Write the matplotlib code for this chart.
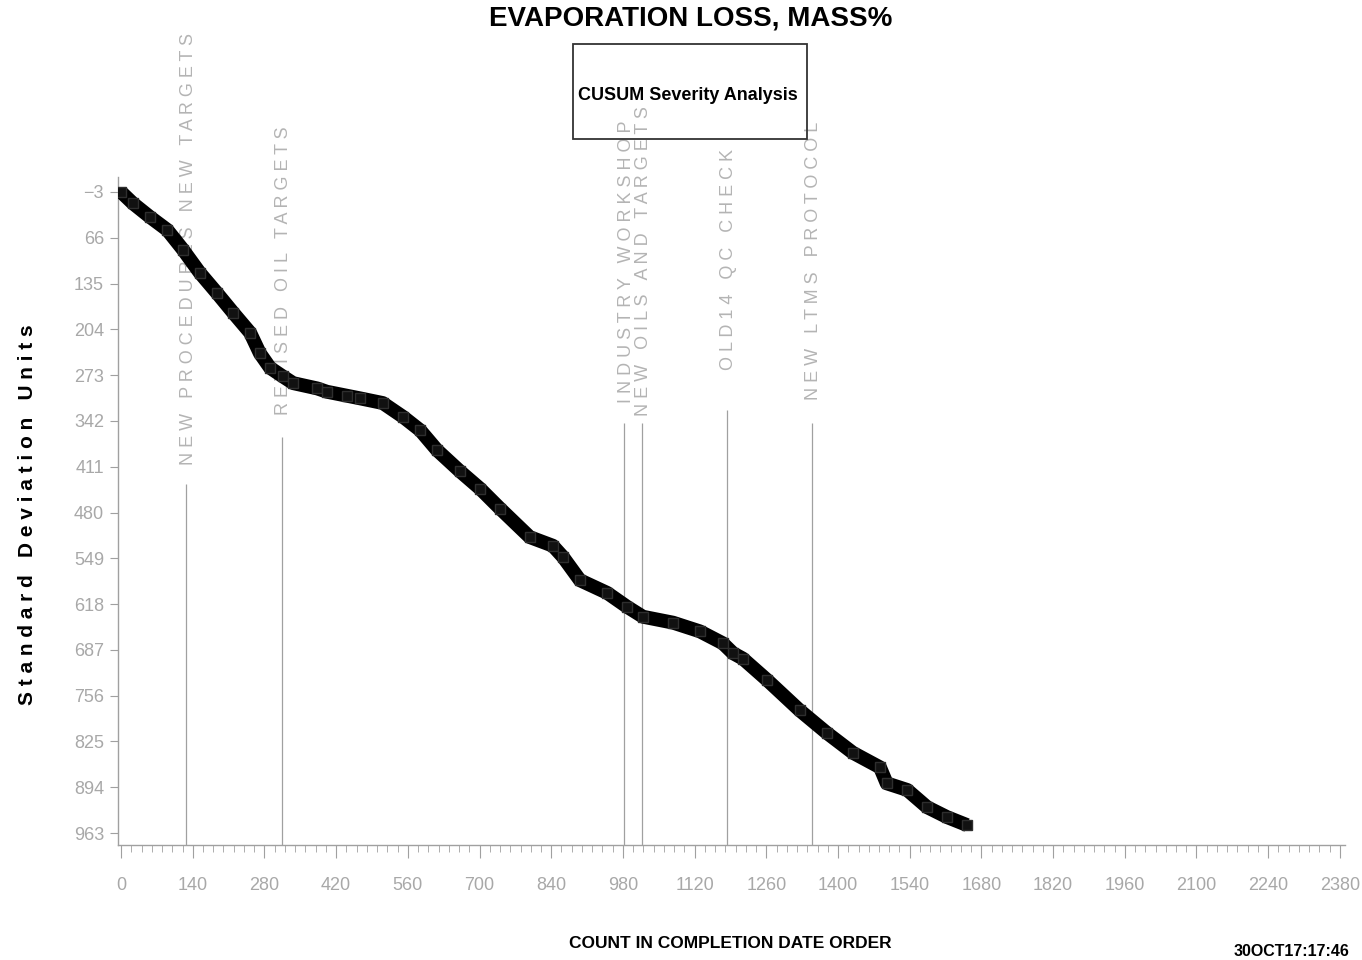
import matplotlib
matplotlib.use("Agg")
import matplotlib.pyplot as plt
from matplotlib.patches import Rectangle

# ---- data ----
count = [0, 23, 57, 90, 121, 154, 187, 219, 252, 271, 291, 316, 336, 383, 402,
         441, 467, 511, 551, 584, 617, 662, 701, 740, 798, 843, 863, 896, 949,
         988, 1019, 1078, 1130, 1175, 1195, 1214, 1261, 1325, 1378, 1429, 1482,
         1495, 1535, 1574, 1613, 1652]
cusum = [-3, 14, 35, 54, 84, 119, 149, 179, 209, 240, 262, 275, 285, 293, 298,
         304, 308, 315, 336, 356, 386, 418, 444, 474, 517, 530, 547, 582, 601,
         622, 637, 646, 659, 677, 692, 700, 732, 778, 812, 842, 864,
         888, 898, 924, 939, 951]

event_x = [127, 314, 982, 1017, 1183, 1349]
event_top = [437, 366, 345, 345, 326, 345]
event_label_y = [408, 333, 315, 334, 265, 310]
event_labels = ["NEW PROCEDURES NEW TARGETS", "REVISED OIL TARGETS",
                "INDUSTRY WORKSHOP", "NEW OILS AND TARGETS",
                "OLD14 QC CHECK", "NEW LTMS PROTOCOL"]

y_ticks = [-3, 66, 135, 204, 273, 342, 411, 480, 549, 618, 687, 756, 825, 894, 963]
x_ticks = [0, 140, 280, 420, 560, 700, 840, 980, 1120, 1260, 1400, 1540, 1680,
           1820, 1960, 2100, 2240, 2380]

title = "EVAPORATION LOSS, MASS%"
box_text = "CUSUM Severity Analysis"
x_label = "COUNT IN COMPLETION DATE ORDER"
y_label = "Standard Deviation Units"
stamp = "30OCT17:17:46"

ARIAL = ["Liberation Sans", "DejaVu Sans"]


def spaced(s, gap=" "):
    return "   ".join(gap.join(list(w)) for w in s.split(" "))


fig = plt.figure(figsize=(13.62, 9.60), dpi=100)
ax = fig.add_axes([118 / 1362, 1 - 845 / 960, (1345 - 118) / 1362, (845 - 177) / 960])

ax.set_xlim(-6, 2390)
ax.set_ylim(981, -25.6)

# event lines and labels
ymax = 981
for xv, top, ly, lab in zip(event_x, event_top, event_label_y, event_labels):
    ax.vlines(xv, top, ymax, color="#a0a0a0", lw=0.9, zorder=1)
    ax.text(xv + 4, ly, spaced(lab), rotation=90, ha="center", va="bottom",
            fontsize=13, color="#b4b4b4", family=ARIAL, zorder=1,
            clip_on=False)

# CUSUM line
ax.plot(count, cusum, color="black", lw=10, solid_joinstyle="round",
        solid_capstyle="butt", zorder=3)
ax.plot(count, cusum, ls="none", marker="s", ms=7, mfc="#111111", mec="#2e2e2e",
        mew=1.0, zorder=4)

# axes style
for s in ["top", "right"]:
    ax.spines[s].set_visible(False)
for s in ["left", "bottom"]:
    ax.spines[s].set_color("#a0a0a0")
    ax.spines[s].set_linewidth(1.0)

ax.set_yticks(y_ticks)
ax.set_yticklabels([str(v).replace("-", "\u2212") for v in y_ticks], family=ARIAL,
                   fontsize=13, color="#a8a8a8")
ax.set_xticks(x_ticks)
ax.set_xticklabels([str(v) for v in x_ticks], family=ARIAL, fontsize=13,
                   color="#a8a8a8")
ax.set_xticks(list(range(0, 2390, 20)), minor=True)
ax.tick_params(axis="y", which="major", length=6, color="#a0a0a0", pad=4)
ax.tick_params(axis="x", which="major", length=9, color="#a0a0a0", pad=14)
ax.tick_params(axis="x", which="minor", length=5, color="#a0a0a0")

# labels
fig.text(28 / 1362, 1 - 515 / 960, spaced(y_label, " "), rotation=90,
         ha="center", va="center", fontsize=15, fontweight="bold",
         family=ARIAL, color="black")
fig.text(730 / 1362, 1 - 943 / 960, x_label, ha="center", va="center",
         fontsize=12.5, fontweight="bold", family=ARIAL, color="black")
fig.text(691 / 1362, 1 - 18 / 960, title, ha="center", va="center",
         fontsize=20, fontweight="bold", family=ARIAL, color="black")
fig.text(1234 / 1362, 1 / 960, stamp, ha="left", va="bottom",
         fontsize=11.5, fontweight="bold", family=ARIAL, color="black")

# box
fig.patches.append(Rectangle((573 / 1362, 1 - 139 / 960), (807 - 573) / 1362,
                             (139 - 44) / 960, transform=fig.transFigure,
                             fill=False, edgecolor="#333333", lw=1.3))
fig.text(688 / 1362, 1 - 95 / 960, box_text, ha="center", va="center",
         fontsize=13, fontweight="bold", family=ARIAL, color="black")

fig.savefig("out.png", dpi=100)
